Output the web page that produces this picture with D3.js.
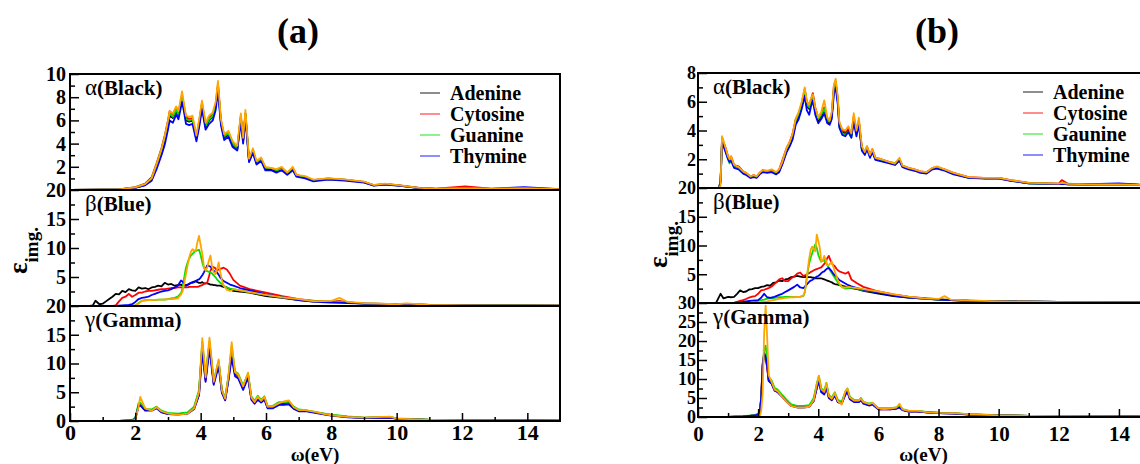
<!DOCTYPE html>
<html>
<head>
<meta charset="utf-8">
<script src="https://cdn.jsdelivr.net/npm/d3@7"></script>
<style>
  html, body { margin: 0; padding: 0; background: #fff; }
  svg { display: block; }
  #chart text { font-family: "Liberation Serif", "Times New Roman", serif !important; }
</style>
</head>
<body>
<svg id="chart" width="1140" height="464"></svg>
<script>
// ---- data (energy in eV, eps_img) ----
// series order: Adenine (black), Cytosine (red), Guanine (green), Thymine (blue), unlabeled (orange)
var LEGEND_A = ['Adenine', 'Cytosine', 'Guanine', 'Thymine'];
var LEGEND_B = ['Adenine', 'Cytosine', 'Gaunine', 'Thymine'];
var X_TICKS = [0, 2, 4, 6, 8, 10, 12, 14];

// panel (a), alpha
var A_ALPHA_X = [0, 1.0, 1.5, 2.0, 2.3, 2.5, 2.65, 2.8, 2.9, 3.0, 3.05, 3.15, 3.25, 3.32, 3.43, 3.48, 3.55, 3.65, 3.75, 3.87, 3.96, 4.04, 4.15, 4.26, 4.37, 4.46, 4.53, 4.62, 4.72, 4.85, 4.98, 5.12, 5.23, 5.3, 5.37, 5.48, 5.6, 5.71, 5.85, 5.98, 6.15, 6.32, 6.48, 6.65, 6.82, 6.93, 7.2, 7.45, 7.9, 8.4, 9.0, 9.3, 9.65, 10.1, 10.7, 11.2, 12.1, 12.9, 13.9, 15];
var A_ALPHA_K = [0, 0.02, 0.05, 0.2, 0.45, 0.9, 2.0, 3.2, 4.2, 5.5, 6.4, 6.2, 6.8, 6.4, 8.0, 7.2, 6.0, 5.9, 6.0, 4.4, 5.8, 7.3, 5.4, 6.0, 6.3, 7.2, 8.9, 5.8, 4.5, 4.8, 3.9, 3.5, 6.2, 4.2, 6.5, 2.5, 3.3, 2.3, 2.6, 1.8, 1.8, 1.6, 1.8, 1.4, 1.8, 1.2, 1.1, 0.8, 0.95, 0.87, 0.67, 0.4, 0.5, 0.38, 0.17, 0.1, 0.15, 0.1, 0.12, 0.08];
var A_ALPHA_R = [0, 0.02, 0.06, 0.25, 0.55, 1.1, 2.3, 3.6, 4.7, 6.0, 6.8, 6.5, 7.1, 6.6, 8.2, 7.4, 6.3, 6.1, 6.2, 4.6, 6.0, 7.5, 5.6, 6.3, 6.5, 7.4, 9.1, 6.0, 4.7, 4.9, 4.0, 3.6, 6.4, 4.3, 6.6, 2.6, 3.4, 2.4, 2.7, 1.9, 1.9, 1.7, 1.9, 1.5, 1.9, 1.3, 1.1, 0.85, 1.0, 0.9, 0.7, 0.42, 0.52, 0.4, 0.18, 0.12, 0.32, 0.12, 0.14, 0.08];
var A_ALPHA_G = [0, 0.02, 0.05, 0.22, 0.5, 1.0, 2.2, 3.5, 4.5, 5.8, 6.6, 6.3, 6.9, 6.5, 8.1, 7.3, 6.1, 6.0, 6.1, 4.5, 5.9, 7.4, 5.5, 6.1, 6.4, 7.3, 9.0, 5.9, 4.6, 4.9, 4.0, 3.6, 6.3, 4.3, 6.6, 2.6, 3.4, 2.4, 2.7, 1.9, 1.9, 1.7, 1.8, 1.5, 1.8, 1.25, 1.1, 0.85, 0.95, 0.9, 0.68, 0.4, 0.5, 0.38, 0.17, 0.1, 0.14, 0.1, 0.18, 0.08];
var A_ALPHA_B = [0, 0.02, 0.04, 0.18, 0.4, 0.8, 1.8, 3.0, 3.9, 5.2, 6.0, 5.8, 6.5, 6.1, 7.6, 6.9, 5.7, 5.6, 5.7, 4.2, 5.5, 7.0, 5.2, 5.7, 6.0, 6.9, 8.5, 5.6, 4.3, 4.6, 3.7, 3.4, 5.9, 4.0, 6.2, 2.4, 3.2, 2.2, 2.5, 1.7, 1.7, 1.5, 1.7, 1.3, 1.7, 1.15, 1.0, 0.75, 0.9, 0.82, 0.63, 0.38, 0.47, 0.35, 0.16, 0.1, 0.14, 0.1, 0.25, 0.07];
var A_ALPHA_O = [0, 0.02, 0.05, 0.22, 0.5, 1.0, 2.2, 3.5, 4.6, 6.0, 6.8, 6.6, 7.2, 6.8, 8.5, 7.6, 6.4, 6.3, 6.4, 4.7, 6.2, 7.7, 5.8, 6.4, 6.7, 7.6, 9.4, 6.1, 4.8, 5.1, 4.2, 3.8, 6.6, 4.5, 6.9, 2.7, 3.6, 2.5, 2.8, 2.0, 1.9, 1.8, 2.0, 1.5, 2.0, 1.3, 1.2, 0.9, 1.0, 0.92, 0.72, 0.43, 0.55, 0.4, 0.18, 0.12, 0.16, 0.11, 0.15, 0.08];

// panel (a), beta
var A_BETA_X = [0, 0.6, 0.7, 0.78, 0.9, 1.0, 1.1, 1.2, 1.3, 1.4, 1.5, 1.6, 1.7, 1.8, 1.9, 2.0, 2.1, 2.2, 2.3, 2.4, 2.5, 2.6, 2.7, 2.8, 2.9, 3.0, 3.1, 3.2, 3.3, 3.4, 3.45, 3.5, 3.55, 3.6, 3.65, 3.7, 3.75, 3.8, 3.85, 3.9, 3.95, 4.0, 4.05, 4.1, 4.15, 4.2, 4.25, 4.3, 4.35, 4.4, 4.45, 4.5, 4.55, 4.6, 4.65, 4.7, 4.8, 4.9, 5.0, 5.2, 5.5, 6.0, 6.5, 7.0, 7.5, 8.0, 8.25, 8.5, 9.0, 10.0, 10.3, 11, 12, 13, 15];
var A_BETA_K = [0, 0, 0.1, 0.9, 0.3, 0.4, 0.8, 1.2, 1.6, 2.1, 2.0, 2.6, 2.4, 2.9, 2.7, 2.6, 3.2, 3.0, 3.1, 2.9, 3.2, 3.3, 3.5, 3.4, 4.0, 3.7, 3.8, 3.5, 3.6, 3.7, 3.5, 3.5, 3.6, 3.7, 3.8, 4.0, 4.1, 4.2, 4.3, 4.1, 4.0, 4.0, 4.1, 3.9, 3.9, 3.9, 3.8, 3.7, 3.7, 3.6, 3.6, 3.5, 3.5, 3.5, 3.4, 3.3, 3.2, 2.9, 2.6, 2.5, 2.3, 1.7, 1.4, 1.0, 0.75, 0.75, 0.7, 0.6, 0.45, 0.3, 0.3, 0.18, 0.12, 0.1, 0.05];
var A_BETA_R = [0, 0, 0, 0, 0, 0, 0, 0, 0.02, 0.1, 0.8, 1.4, 1.6, 2.1, 1.6, 1.9, 2.3, 2.3, 2.5, 2.6, 2.6, 2.7, 2.8, 2.9, 2.9, 3.0, 3.1, 3.1, 3.2, 3.2, 3.2, 3.2, 3.2, 3.2, 3.3, 3.3, 3.3, 3.3, 3.3, 3.3, 3.4, 3.5, 3.6, 3.8, 3.9, 4.0, 5.0, 6.1, 6.6, 6.7, 6.5, 6.1, 6.3, 6.4, 6.5, 6.6, 6.3, 5.5, 4.5, 3.5, 2.9, 2.3, 1.7, 1.2, 0.9, 0.7, 0.9, 0.6, 0.4, 0.3, 0.3, 0.2, 0.12, 0.1, 0.05];
var A_BETA_G = [0, 0, 0, 0, 0, 0, 0, 0, 0, 0, 0, 0, 0, 0, 0, 0.1, 0.5, 0.9, 1.0, 1.0, 1.0, 1.0, 1.1, 1.1, 1.1, 1.2, 1.3, 1.4, 1.6, 2.2, 3.2, 5.0, 6.6, 7.5, 8.2, 8.7, 9.0, 9.3, 9.5, 9.6, 9.7, 8.8, 7.5, 6.6, 6.1, 6.0, 5.9, 5.8, 5.6, 5.3, 5.0, 4.6, 4.3, 4.0, 3.8, 3.5, 3.2, 3.0, 2.9, 2.7, 2.4, 1.9, 1.5, 1.1, 0.85, 0.7, 0.75, 0.6, 0.4, 0.3, 0.3, 0.2, 0.12, 0.1, 0.05];
var A_BETA_B = [0, 0, 0, 0, 0, 0, 0, 0, 0, 0, 0.05, 0.1, 0.15, 0.2, 0.3, 0.7, 1.2, 1.4, 1.5, 1.6, 1.9, 2.1, 2.3, 2.5, 2.6, 2.7, 2.9, 3.2, 3.5, 4.4, 4.2, 3.6, 3.5, 3.6, 3.8, 4.0, 4.0, 4.1, 4.3, 4.5, 4.6, 4.9, 5.3, 5.8, 6.4, 7.0, 6.9, 6.8, 6.4, 6.1, 5.9, 5.8, 5.4, 4.9, 4.6, 4.3, 4.0, 3.7, 3.5, 3.1, 2.7, 2.0, 1.5, 1.0, 0.7, 0.6, 0.55, 0.5, 0.4, 0.25, 0.22, 0.15, 0.1, 0.08, 0.05];
var A_BETA_O = [0, 0, 0, 0, 0, 0, 0, 0, 0, 0, 0, 0, 0, 0, 0, 0.05, 0.4, 0.9, 0.95, 1.0, 1.0, 1.05, 1.1, 1.1, 1.15, 1.2, 1.2, 1.25, 1.3, 2.0, 2.6, 4.0, 5.5, 7.0, 8.4, 9.3, 9.8, 9.6, 9.5, 11.0, 12.1, 10.5, 9.0, 6.8, 6.1, 6.6, 7.8, 8.7, 6.8, 5.8, 5.5, 6.3, 7.5, 5.8, 4.5, 3.6, 2.8, 2.6, 2.9, 2.7, 2.4, 1.9, 1.5, 1.2, 0.8, 0.9, 1.4, 0.7, 0.5, 0.3, 0.45, 0.2, 0.1, 0.08, 0.05];

// panel (a), gamma
var A_GAMMA_X = [0, 1.5, 1.9, 2.0, 2.1, 2.15, 2.3, 2.5, 2.65, 2.8, 3.0, 3.3, 3.6, 3.8, 3.95, 4.05, 4.15, 4.27, 4.4, 4.55, 4.65, 4.75, 4.85, 4.95, 5.05, 5.15, 5.3, 5.45, 5.55, 5.65, 5.75, 5.85, 5.95, 6.05, 6.2, 6.4, 6.55, 6.7, 6.85, 7.0, 7.2, 7.5, 7.8, 8.0, 8.5, 9.0, 9.8, 10.0, 11, 12, 14, 15];
var A_GAMMA_K = [0, 0.02, 0.1, 0.5, 2.8, 2.9, 1.9, 1.9, 2.3, 1.6, 1.3, 1.2, 1.4, 2.3, 5.0, 13.2, 7.3, 13.5, 6.6, 10.2, 5.2, 3.8, 7.5, 12.3, 8.3, 7.8, 5.8, 8.0, 4.0, 3.2, 4.0, 3.4, 4.0, 2.4, 2.4, 3.0, 3.0, 3.1, 2.3, 1.8, 1.8, 1.5, 1.2, 1.0, 0.7, 0.55, 0.65, 0.4, 0.2, 0.12, 0.1, 0.05];
var A_GAMMA_R = [0, 0.02, 0.1, 0.4, 2.6, 2.8, 1.9, 1.9, 2.3, 1.6, 1.3, 1.2, 1.3, 2.1, 4.6, 13.0, 7.0, 13.3, 6.5, 10.0, 5.0, 3.7, 7.3, 11.5, 8.1, 7.6, 5.7, 7.8, 3.9, 3.1, 3.9, 3.3, 3.9, 2.3, 2.3, 2.9, 2.9, 3.0, 2.2, 1.8, 1.8, 1.5, 1.2, 1.0, 0.7, 0.55, 0.65, 0.4, 0.2, 0.12, 0.1, 0.05];
var A_GAMMA_G = [0, 0.02, 0.12, 0.6, 3.1, 3.2, 2.1, 2.0, 2.5, 1.8, 1.4, 1.3, 1.5, 2.5, 5.4, 13.8, 7.8, 13.8, 7.0, 10.5, 5.5, 4.0, 7.8, 13.0, 8.6, 8.2, 6.2, 8.3, 4.3, 3.5, 4.4, 3.7, 4.3, 2.6, 2.6, 3.3, 3.3, 3.4, 2.5, 2.0, 1.9, 1.6, 1.3, 1.1, 0.8, 0.6, 0.7, 0.45, 0.22, 0.14, 0.1, 0.06];
var A_GAMMA_B = [0, 0.02, 0.1, 0.4, 2.6, 2.7, 1.8, 1.8, 2.2, 1.5, 1.2, 1.1, 1.3, 2.1, 4.5, 12.0, 6.8, 12.5, 6.3, 9.5, 4.9, 3.6, 7.0, 11.0, 7.8, 7.4, 5.4, 7.5, 3.7, 3.0, 3.7, 3.2, 3.7, 2.2, 2.2, 2.8, 2.8, 2.9, 2.1, 1.7, 1.7, 1.4, 1.1, 0.95, 0.65, 0.5, 0.6, 0.38, 0.18, 0.12, 0.15, 0.06];
var A_GAMMA_O = [0, 0.02, 0.05, 0.2, 2.5, 4.2, 2.2, 1.8, 2.4, 1.7, 1.3, 1.1, 1.3, 2.2, 5.0, 14.4, 7.6, 14.5, 6.8, 10.7, 5.3, 3.9, 7.8, 13.7, 8.5, 8.0, 6.0, 8.4, 4.1, 3.3, 4.2, 3.5, 4.2, 2.5, 2.5, 3.1, 3.4, 3.6, 2.4, 1.9, 1.9, 1.6, 1.2, 1.0, 0.7, 0.6, 0.75, 0.4, 0.2, 0.12, 0.1, 0.05];

// panel (b), alpha
var B_ALPHA_X = [0, 0.7, 0.75, 0.8, 0.9, 1.0, 1.05, 1.1, 1.2, 1.35, 1.5, 1.6, 1.75, 1.85, 1.95, 2.05, 2.15, 2.3, 2.45, 2.6, 2.7, 2.8, 2.95, 3.05, 3.15, 3.25, 3.35, 3.45, 3.55, 3.62, 3.7, 3.75, 3.82, 3.9, 4.0, 4.1, 4.2, 4.3, 4.38, 4.45, 4.52, 4.58, 4.65, 4.7, 4.8, 4.9, 5.0, 5.1, 5.18, 5.27, 5.35, 5.45, 5.55, 5.62, 5.72, 5.8, 5.9, 6.1, 6.3, 6.55, 6.7, 6.8, 7.0, 7.2, 7.4, 7.6, 7.8, 7.95, 8.2, 8.5, 9.0, 9.5, 10.0, 10.4, 11, 12, 12.1, 12.3, 13, 14, 15];
var B_ALPHA_K = [0, 0, 0.5, 3.4, 2.8, 2.1, 1.9, 2.1, 1.5, 1.4, 1.1, 1.0, 0.75, 0.85, 0.75, 1.0, 1.2, 1.1, 1.2, 1.0, 1.2, 1.7, 2.6, 3.0, 3.6, 4.6, 5.0, 5.7, 6.6, 5.7, 5.5, 5.9, 6.4, 5.4, 4.7, 5.0, 5.4, 4.6, 4.5, 5.0, 6.8, 7.2, 6.0, 4.4, 3.9, 3.8, 4.1, 3.6, 4.8, 3.8, 4.6, 2.7, 2.4, 2.8, 2.2, 2.6, 2.0, 1.9, 1.8, 1.65, 1.95, 1.5, 1.35, 1.25, 1.1, 1.05, 1.35, 1.4, 1.25, 1.0, 0.72, 0.68, 0.68, 0.52, 0.33, 0.28, 0.3, 0.26, 0.24, 0.25, 0.2];
var B_ALPHA_R = [0, 0, 0.5, 3.5, 2.9, 2.2, 2.0, 2.2, 1.6, 1.5, 1.15, 1.05, 0.8, 0.9, 0.8, 1.05, 1.25, 1.15, 1.25, 1.05, 1.3, 1.9, 2.8, 3.2, 3.8, 4.8, 5.2, 5.9, 6.9, 6.0, 5.8, 6.1, 6.6, 5.6, 4.9, 5.2, 5.6, 4.8, 4.7, 5.2, 7.1, 7.4, 6.2, 4.5, 4.0, 3.9, 4.2, 3.7, 5.0, 3.9, 4.7, 2.8, 2.5, 2.9, 2.3, 2.7, 2.1, 2.0, 1.85, 1.7, 2.0, 1.55, 1.4, 1.3, 1.15, 1.1, 1.4, 1.45, 1.3, 1.05, 0.75, 0.7, 0.7, 0.55, 0.35, 0.3, 0.55, 0.3, 0.25, 0.25, 0.2];
var B_ALPHA_G = [0, 0, 0.4, 3.3, 2.7, 2.0, 1.7, 2.0, 1.45, 1.35, 1.05, 0.95, 0.7, 0.8, 0.75, 1.05, 1.2, 1.1, 1.15, 1.0, 1.2, 1.75, 2.7, 3.1, 3.7, 4.7, 5.1, 5.8, 6.7, 5.8, 5.6, 5.9, 6.2, 5.3, 4.8, 5.1, 5.5, 4.7, 4.6, 5.1, 6.9, 7.3, 6.1, 4.3, 3.8, 3.7, 3.9, 3.5, 4.9, 3.7, 4.6, 2.7, 2.45, 2.8, 2.25, 2.6, 2.05, 1.9, 1.8, 1.75, 1.9, 1.5, 1.35, 1.25, 1.1, 1.05, 1.35, 1.4, 1.25, 1.0, 0.72, 0.68, 0.7, 0.52, 0.33, 0.28, 0.3, 0.3, 0.24, 0.28, 0.2];
var B_ALPHA_B = [0, 0, 0.4, 3.2, 2.6, 2.0, 1.8, 1.9, 1.4, 1.3, 1.0, 0.9, 0.7, 0.75, 0.7, 0.95, 1.1, 1.05, 1.1, 0.95, 1.1, 1.6, 2.5, 2.9, 3.4, 4.4, 4.8, 5.5, 6.4, 5.4, 5.1, 5.6, 6.1, 5.1, 4.5, 4.8, 5.2, 4.5, 4.4, 4.8, 6.6, 7.0, 5.8, 4.2, 3.7, 3.6, 3.9, 3.5, 4.6, 3.6, 4.4, 2.6, 2.3, 2.7, 2.1, 2.5, 1.95, 1.85, 1.75, 1.6, 1.9, 1.45, 1.3, 1.2, 1.05, 1.0, 1.3, 1.35, 1.2, 0.95, 0.7, 0.65, 0.65, 0.5, 0.32, 0.27, 0.28, 0.25, 0.26, 0.32, 0.2];
var B_ALPHA_O = [0, 0, 0.2, 3.6, 2.9, 2.2, 2.0, 2.2, 1.6, 1.45, 1.15, 1.05, 0.8, 0.9, 0.8, 1.05, 1.25, 1.2, 1.3, 1.1, 1.3, 1.8, 2.8, 3.2, 3.8, 4.8, 5.3, 6.0, 7.0, 6.0, 5.8, 6.2, 6.5, 5.6, 4.9, 5.3, 6.1, 4.9, 4.7, 5.3, 7.2, 7.6, 6.3, 4.6, 4.1, 4.0, 4.3, 3.8, 5.2, 4.0, 4.9, 2.9, 2.5, 2.9, 2.3, 2.7, 2.1, 2.0, 1.85, 1.7, 2.1, 1.55, 1.4, 1.3, 1.15, 1.1, 1.4, 1.5, 1.3, 1.05, 0.75, 0.7, 0.7, 0.55, 0.35, 0.3, 0.35, 0.28, 0.25, 0.25, 0.2];

// panel (b), beta
var B_BETA_X = [0, 0.6, 0.75, 0.85, 1.0, 1.1, 1.2, 1.3, 1.4, 1.5, 1.6, 1.7, 1.8, 1.9, 2.0, 2.1, 2.2, 2.3, 2.4, 2.5, 2.6, 2.7, 2.8, 2.9, 3.0, 3.1, 3.2, 3.3, 3.4, 3.5, 3.55, 3.6, 3.65, 3.7, 3.75, 3.8, 3.85, 3.9, 3.95, 4.0, 4.05, 4.1, 4.15, 4.2, 4.25, 4.3, 4.35, 4.4, 4.45, 4.5, 4.55, 4.6, 4.65, 4.7, 4.8, 4.9, 5.0, 5.1, 5.3, 5.5, 6.0, 6.5, 7.0, 7.5, 8.0, 8.2, 8.4, 9.0, 10.0, 12, 15];
var B_BETA_K = [0, 0, 1.6, 0.8, 1.05, 1.0, 1.05, 1.6, 2.2, 1.9, 2.0, 2.35, 2.4, 2.6, 2.6, 2.8, 2.9, 3.1, 3.0, 3.5, 3.6, 3.9, 3.8, 4.1, 4.2, 4.5, 4.6, 4.7, 4.6, 4.5, 4.5, 4.6, 4.5, 4.5, 4.5, 4.4, 4.4, 4.3, 4.3, 4.3, 4.3, 4.3, 4.2, 4.1, 4.0, 3.9, 3.8, 3.7, 3.6, 3.4, 3.3, 3.25, 3.2, 3.1, 3.0, 2.85, 2.7, 2.6, 2.4, 2.1, 1.65, 1.2, 0.95, 0.75, 0.6, 0.55, 0.5, 0.35, 0.3, 0.18, 0.1];
var B_BETA_R = [0, 0, 0, 0, 0, 0, 0.05, 0.2, 0.35, 0.5, 0.7, 0.95, 1.1, 1.2, 1.6, 2.2, 2.3, 2.5, 2.7, 3.1, 3.6, 4.1, 4.3, 3.8, 3.8, 4.3, 4.6, 5.1, 5.3, 4.7, 4.8, 4.9, 5.1, 5.2, 5.4, 5.5, 5.7, 5.8, 5.9, 6.0, 6.1, 6.2, 6.5, 6.8, 7.2, 7.8, 8.2, 7.5, 6.9, 6.6, 6.4, 6.0, 5.7, 5.5, 5.3, 5.1, 5.4, 4.1, 3.4, 2.8, 2.0, 1.5, 1.1, 0.85, 0.65, 0.6, 0.55, 0.4, 0.3, 0.18, 0.1];
var B_BETA_G = [0, 0, 0, 0, 0, 0, 0, 0, 0, 0, 0, 0, 0.05, 0.15, 0.35, 0.5, 0.6, 0.75, 0.8, 0.85, 0.95, 1.0, 1.0, 1.05, 1.05, 1.05, 1.05, 1.05, 1.1, 1.2, 1.8, 3.7, 5.5, 6.9, 7.9, 8.7, 9.5, 10.2, 9.6, 8.4, 7.7, 7.2, 7.3, 7.5, 7.0, 6.6, 6.0, 5.6, 5.2, 4.8, 4.4, 4.0, 3.6, 3.2, 2.8, 2.5, 2.6, 2.7, 2.5, 2.2, 1.9, 1.4, 1.0, 0.8, 0.6, 0.6, 0.55, 0.4, 0.3, 0.18, 0.15];
var B_BETA_B = [0, 0, 0, 0, 0, 0, 0, 0.05, 0.1, 0.2, 0.3, 0.35, 0.4, 0.45, 0.5, 0.9, 1.6, 1.0, 0.9, 1.0, 1.2, 1.4, 1.6, 1.9, 2.2, 2.5, 2.8, 3.2, 2.7, 2.6, 2.8, 3.1, 3.4, 3.7, 3.9, 4.0, 4.2, 4.4, 4.6, 4.7, 4.9, 5.2, 5.4, 5.5, 5.8, 6.0, 6.1, 5.8, 5.5, 5.1, 4.8, 4.6, 4.3, 4.0, 3.7, 3.4, 3.1, 2.9, 2.6, 2.3, 1.8, 1.3, 0.95, 0.75, 0.6, 0.55, 0.5, 0.4, 0.3, 0.18, 0.15];
var B_BETA_O = [0, 0, 0, 0, 0, 0, 0, 0, 0, 0, 0, 0, 0, 0, 0.05, 0.15, 0.25, 0.3, 0.4, 0.5, 0.6, 0.7, 0.8, 0.9, 0.95, 1.0, 1.0, 1.05, 1.05, 1.3, 1.9, 3.5, 5.8, 7.8, 9.3, 9.8, 9.4, 9.0, 11.9, 10.8, 9.6, 7.2, 7.4, 8.2, 7.5, 6.6, 6.6, 6.9, 7.2, 6.3, 5.5, 4.7, 4.0, 3.4, 2.7, 2.7, 2.8, 2.7, 2.6, 2.4, 2.0, 1.5, 1.1, 0.8, 0.7, 1.2, 0.6, 0.45, 0.3, 0.15, 0.1];

// panel (b), gamma
var B_GAMMA_X = [0, 1.0, 1.5, 1.9, 2.0, 2.05, 2.1, 2.15, 2.2, 2.25, 2.3, 2.35, 2.45, 2.55, 2.65, 2.8, 2.95, 3.1, 3.3, 3.5, 3.7, 3.85, 3.95, 4.02, 4.1, 4.2, 4.27, 4.35, 4.45, 4.55, 4.65, 4.78, 4.9, 4.97, 5.05, 5.2, 5.35, 5.42, 5.5, 5.7, 5.8, 6.0, 6.2, 6.4, 6.6, 6.7, 6.8, 7.0, 7.3, 7.6, 8.0, 8.5, 9.0, 10.0, 11, 12, 14, 15];
var B_GAMMA_K = [0, 0.05, 0.15, 0.4, 0.7, 1.1, 4.6, 13.3, 16.6, 16.0, 13.5, 9.8, 9.0, 7.2, 6.8, 5.5, 4.2, 3.1, 2.7, 2.7, 2.9, 4.6, 8.1, 10.0, 7.0, 6.3, 8.3, 5.4, 4.7, 6.0, 4.1, 3.7, 6.2, 7.0, 4.9, 4.1, 4.1, 4.6, 3.7, 3.2, 3.5, 2.1, 2.1, 2.1, 2.3, 2.8, 1.9, 1.5, 1.5, 1.25, 1.05, 0.95, 0.7, 0.45, 0.3, 0.2, 0.15, 0.1];
var B_GAMMA_R = [0, 0.05, 0.15, 0.4, 0.8, 1.3, 5.0, 13.8, 16.3, 15.5, 13.0, 9.6, 8.8, 7.0, 6.6, 5.4, 4.1, 3.0, 2.6, 2.6, 2.8, 4.3, 7.6, 9.6, 6.7, 6.1, 8.0, 5.2, 4.5, 5.8, 4.0, 3.6, 6.0, 6.8, 4.8, 4.0, 4.0, 4.5, 3.6, 3.1, 3.4, 2.0, 2.0, 2.0, 2.2, 2.6, 1.9, 1.5, 1.5, 1.25, 1.05, 0.95, 0.7, 0.45, 0.3, 0.2, 0.15, 0.1];
var B_GAMMA_G = [0, 0.05, 0.2, 0.5, 0.9, 1.3, 4.2, 12.5, 17.5, 18.8, 15.0, 10.5, 9.6, 7.6, 7.2, 5.8, 4.5, 3.3, 2.9, 2.9, 3.1, 5.0, 8.8, 10.8, 7.6, 6.8, 9.0, 5.8, 5.1, 6.5, 4.5, 4.0, 6.6, 7.5, 5.3, 4.5, 4.4, 5.0, 4.0, 3.5, 3.8, 2.3, 2.3, 2.3, 2.5, 3.0, 2.1, 1.7, 1.6, 1.35, 1.15, 1.0, 0.75, 0.5, 0.32, 0.22, 0.18, 0.1];
var B_GAMMA_B = [0, 0.05, 0.15, 0.4, 0.7, 1.2, 4.8, 14.0, 16.8, 15.8, 13.2, 9.5, 8.7, 6.9, 6.5, 5.3, 4.0, 2.9, 2.5, 2.5, 2.7, 4.2, 7.5, 9.4, 6.5, 5.9, 7.8, 5.0, 4.4, 5.6, 3.9, 3.5, 5.8, 6.6, 4.7, 3.9, 3.9, 4.4, 3.5, 3.0, 3.3, 2.0, 2.0, 2.0, 2.2, 2.5, 1.8, 1.4, 1.4, 1.2, 1.0, 0.9, 0.65, 0.42, 0.28, 0.2, 0.2, 0.12];
var B_GAMMA_O = [0, 0, 0, 0, 0, 0.1, 1.5, 6.0, 22.0, 29.3, 21.0, 11.0, 9.2, 7.2, 6.8, 5.3, 4.0, 2.9, 2.5, 2.5, 2.7, 4.5, 8.5, 10.8, 7.3, 6.6, 8.9, 5.5, 4.8, 6.3, 4.2, 3.3, 6.8, 7.5, 5.1, 4.3, 4.3, 4.8, 3.9, 3.4, 3.7, 2.2, 2.1, 2.2, 2.5, 3.5, 2.0, 1.6, 1.6, 1.3, 1.1, 1.0, 0.75, 0.45, 0.3, 0.2, 0.15, 0.1];

// ---- drawing ----
var COLORS = ['#000000', '#ff0000', '#00e000', '#0000ff', '#ffa500'];
var FONT = 'Liberation Serif';

var panels = [
  { title: '(a)', titleX: 298, x0: 70, x1: 560, bands: [74, 190, 306, 421], yPad: 4, yFont: 20, xFont: 22, xPad: 3,
    legend: LEGEND_A, legX: 420, legY: [93, 114, 135, 156], epsX: 27, epsY: 274, labX: 85,
    subs: [
      { greek: 'α', name: '(Black)', ymax: 10, major: 2, minor: 1, x: A_ALPHA_X, ys: [A_ALPHA_K, A_ALPHA_R, A_ALPHA_G, A_ALPHA_B, A_ALPHA_O] },
      { greek: 'β', name: '(Blue)', ymax: 20, major: 5, minor: 2.5, x: A_BETA_X, ys: [A_BETA_K, A_BETA_R, A_BETA_G, A_BETA_B, A_BETA_O] },
      { greek: 'γ', name: '(Gamma)', ymax: 20, major: 5, minor: 2.5, x: A_GAMMA_X, ys: [A_GAMMA_K, A_GAMMA_R, A_GAMMA_G, A_GAMMA_B, A_GAMMA_O] }
    ] },
  { title: '(b)', titleX: 937, x0: 698, x1: 1149, bands: [73, 188, 303, 417], yPad: 2, yFont: 18, xFont: 21, xPad: 9,
    legend: LEGEND_B, legX: 1023, legY: [92, 113, 134, 155], epsX: 667, epsY: 268, labX: 713,
    subs: [
      { greek: 'α', name: '(Black)', ymax: 8, major: 2, minor: 1, x: B_ALPHA_X, ys: [B_ALPHA_K, B_ALPHA_R, B_ALPHA_G, B_ALPHA_B, B_ALPHA_O] },
      { greek: 'β', name: '(Blue)', ymax: 20, major: 5, minor: 2.5, x: B_BETA_X, ys: [B_BETA_K, B_BETA_R, B_BETA_G, B_BETA_B, B_BETA_O] },
      { greek: 'γ', name: '(Gamma)', ymax: 30, major: 5, minor: 2.5, x: B_GAMMA_X, ys: [B_GAMMA_K, B_GAMMA_R, B_GAMMA_G, B_GAMMA_B, B_GAMMA_O] }
    ] }
];

var svg = d3.select('#chart');
svg.append('rect').attr('width', 1140).attr('height', 464).attr('fill', '#fff');

function styleAxis(sel, size) {
  sel.select('.domain').remove();
  sel.attr('font-family', FONT).attr('font-size', size).attr('font-weight', 'bold');
  sel.selectAll('line').attr('stroke', '#000').attr('stroke-width', 1.5);
  sel.selectAll('text').attr('fill', '#000');
}

function drawPanel(p, pi) {
  var g = svg.append('g');
  var x = d3.scaleLinear().domain([0, 15]).range([p.x0, p.x1]);

  g.append('text').attr('x', p.titleX).attr('y', 43).attr('text-anchor', 'middle')
    .attr('font-weight', 'bold').attr('font-size', 36).text(p.title);

  p.subs.forEach(function(s, si) {
    var top = p.bands[si], bot = p.bands[si + 1];
    var y = d3.scaleLinear().domain([0, s.ymax]).range([bot, top]);
    var clipId = 'clip' + pi + '_' + si;
    g.append('clipPath').attr('id', clipId).append('rect')
      .attr('x', p.x0).attr('y', top).attr('width', p.x1 - p.x0).attr('height', bot - top);

    var line = d3.line().x(function(d) { return x(d[0]); }).y(function(d) { return y(d[1]); });
    var lg = g.append('g').attr('clip-path', 'url(#' + clipId + ')');
    s.ys.forEach(function(vals, k) {
      var pts = d3.zip(s.x, vals);
      lg.append('path').datum(pts).attr('d', line).attr('fill', 'none')
        .attr('stroke', COLORS[k]).attr('stroke-width', 1.8).attr('stroke-linejoin', 'round');
    });

    // the 0 of an upper subplot sits under the top label of the one below it
    var majors = d3.range(0, s.ymax + 0.001, s.major).filter(function(v) { return si === 2 || v > 0; });
    var minors = d3.range(0, s.ymax + 0.001, s.minor).filter(function(v) { return v % s.major !== 0; });
    g.append('g').attr('transform', 'translate(' + p.x0 + ',0)')
      .call(d3.axisLeft(y).tickValues(majors).tickSizeInner(-9).tickSizeOuter(0).tickPadding(p.yPad).tickFormat(d3.format('d')))
      .call(styleAxis, p.yFont);
    g.append('g').attr('transform', 'translate(' + p.x0 + ',0)')
      .call(d3.axisLeft(y).tickValues(minors).tickSizeInner(-5).tickSizeOuter(0).tickFormat(''))
      .call(styleAxis, p.yFont);

    g.append('rect').attr('x', p.x0).attr('y', top).attr('width', p.x1 - p.x0).attr('height', bot - top)
      .attr('fill', 'none').attr('stroke', '#000').attr('stroke-width', 2);

    var lab = g.append('text').attr('x', p.labX).attr('y', top + 21)
      .attr('font-size', 21).attr('font-weight', 'bold');
    lab.append('tspan').attr('font-weight', 'normal').attr('font-size', 23).text(s.greek);
    lab.append('tspan').text(s.name);
  });

  // x axis on the bottom subplot
  var yb = p.bands[3];
  g.append('g').attr('transform', 'translate(0,' + yb + ')')
    .call(d3.axisBottom(x).tickValues(X_TICKS).tickSizeInner(-8).tickSizeOuter(0).tickPadding(p.xPad).tickFormat(d3.format('d')))
    .call(styleAxis, p.xFont);
  g.append('g').attr('transform', 'translate(0,' + yb + ')')
    .call(d3.axisBottom(x).tickValues(d3.range(1, 15, 2)).tickSizeInner(-4).tickSizeOuter(0).tickFormat(''))
    .call(styleAxis, p.xFont);

  g.append('text').attr('x', (p.x0 + p.x1) / 2).attr('y', 461).attr('text-anchor', 'middle')
    .attr('font-weight', 'bold').attr('font-size', 19).text('ω(eV)');

  var eps = g.append('text').attr('transform', 'translate(' + p.epsX + ',' + p.epsY + ') rotate(-90)')
    .attr('font-weight', 'bold');
  eps.append('tspan').attr('font-size', 27).text('ε');
  eps.append('tspan').attr('font-size', 19).attr('dy', 11).text('img.');

  // legend
  p.legend.forEach(function(name, k) {
    var ly = p.legY[k];
    g.append('line').attr('x1', p.legX).attr('x2', p.legX + 20).attr('y1', ly).attr('y2', ly)
      .attr('stroke', COLORS[k]).attr('stroke-opacity', 0.6).attr('stroke-width', 1.5);
    g.append('text').attr('x', p.legX + 30).attr('y', ly).attr('dy', '0.35em')
      .attr('font-weight', 'bold').attr('font-size', 20).text(name);
  });
}

panels.forEach(drawPanel);
</script>
</body>
</html>
